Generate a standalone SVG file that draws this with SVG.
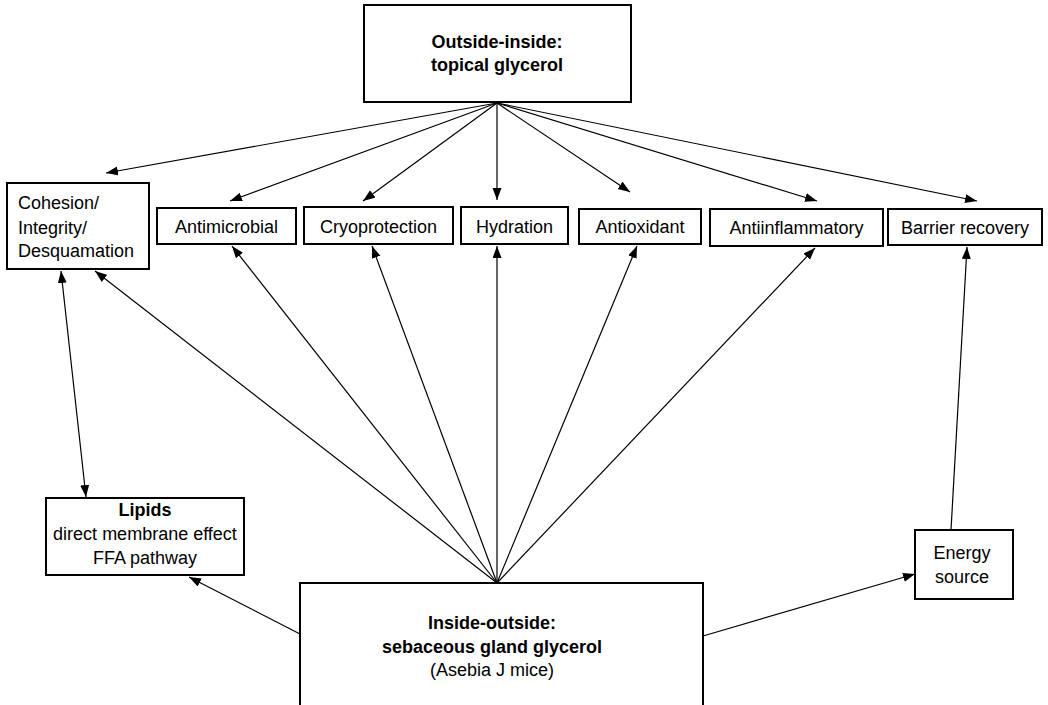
<svg xmlns="http://www.w3.org/2000/svg" width="1048" height="705" viewBox="0 0 1048 705">
<style>
.box{fill:#fff;stroke:#000;stroke-width:2}
.t{font-family:"Liberation Sans",Arial,Helvetica,sans-serif;font-size:18px;fill:#000}
.b{font-weight:bold}
.c{text-anchor:middle}
.ln{stroke:#000;stroke-width:1.2;fill:none;marker-end:url(#ah)}
</style>
<defs>
<marker id="ah" markerUnits="userSpaceOnUse" markerWidth="14" markerHeight="10" refX="12" refY="4.5" orient="auto-start-reverse">
<path d="M0,0 L12,4.5 L0,9 z" fill="#000"/>
</marker>
</defs>
<rect width="1048" height="705" fill="#fff"/>
<g id="connectors">
<line class="ln" x1="497" y1="103" x2="106" y2="173"/>
<line class="ln" x1="497" y1="103" x2="230" y2="201"/>
<line class="ln" x1="497" y1="103" x2="363" y2="201"/>
<line class="ln" x1="497" y1="103" x2="497" y2="200"/>
<line class="ln" x1="497" y1="103" x2="630" y2="192"/>
<line class="ln" x1="497" y1="103" x2="817" y2="201"/>
<line class="ln" x1="497" y1="103" x2="977" y2="201"/>
<line class="ln" x1="497" y1="583" x2="95" y2="271"/>
<line class="ln" x1="497" y1="583" x2="232" y2="246"/>
<line class="ln" x1="497" y1="583" x2="372" y2="246"/>
<line class="ln" x1="497" y1="583" x2="497" y2="246"/>
<line class="ln" x1="497" y1="583" x2="637" y2="246"/>
<line class="ln" x1="497" y1="583" x2="815" y2="248"/>
<line class="ln" x1="300" y1="634" x2="189" y2="577"/>
<line class="ln" x1="703" y1="636" x2="915" y2="574"/>
<line class="ln" x1="951" y1="530" x2="967" y2="247"/>
<line class="ln" x1="61" y1="271" x2="86" y2="497" style="marker-start:url(#ah)"/>
</g>
<g id="top">
<rect class="box" x="364" y="5" width="267" height="97"/>
<text class="t b c" x="497" y="48">Outside-inside:</text>
<text class="t b c" x="497" y="71">topical glycerol</text>
</g>
<g id="cohesion">
<rect class="box" x="7" y="183" width="142" height="86"/>
<text class="t" x="18" y="209">Cohesion/</text>
<text class="t" x="18" y="234">Integrity/</text>
<text class="t" x="18" y="257">Desquamation</text>
</g>
<g id="antimicrobial">
<rect class="box" x="157" y="208" width="139" height="36"/>
<text class="t c" x="226.5" y="233">Antimicrobial</text>
</g>
<g id="cryoprotection">
<rect class="box" x="304" y="207" width="149" height="37"/>
<text class="t c" x="378.5" y="233">Cryoprotection</text>
</g>
<g id="hydration">
<rect class="box" x="461" y="207" width="107" height="37"/>
<text class="t c" x="514.5" y="233">Hydration</text>
</g>
<g id="antioxidant">
<rect class="box" x="579" y="209" width="122" height="35"/>
<text class="t c" x="640" y="233">Antioxidant</text>
</g>
<g id="antiinflammatory">
<rect class="box" x="710" y="209" width="173" height="37"/>
<text class="t c" x="796.5" y="234">Antiinflammatory</text>
</g>
<g id="barrier">
<rect class="box" x="888" y="209" width="154" height="36"/>
<text class="t c" x="965" y="234">Barrier recovery</text>
</g>
<g id="lipids">
<rect class="box" x="46" y="498" width="198" height="77"/>
<text class="t b c" x="145" y="516">Lipids</text>
<text class="t c" x="145" y="540">direct membrane effect</text>
<text class="t c" x="145" y="564">FFA pathway</text>
</g>
<g id="energy">
<rect class="box" x="915" y="530" width="98" height="69"/>
<text class="t c" x="962" y="559">Energy</text>
<text class="t c" x="962" y="583">source</text>
</g>
<g id="bottom">
<rect class="box" x="300" y="583" width="403" height="125"/>
<text class="t b c" x="492" y="629">Inside-outside:</text>
<text class="t b c" x="492" y="653">sebaceous gland glycerol</text>
<text class="t c" x="492" y="676">(Asebia J mice)</text>
</g>
</svg>
